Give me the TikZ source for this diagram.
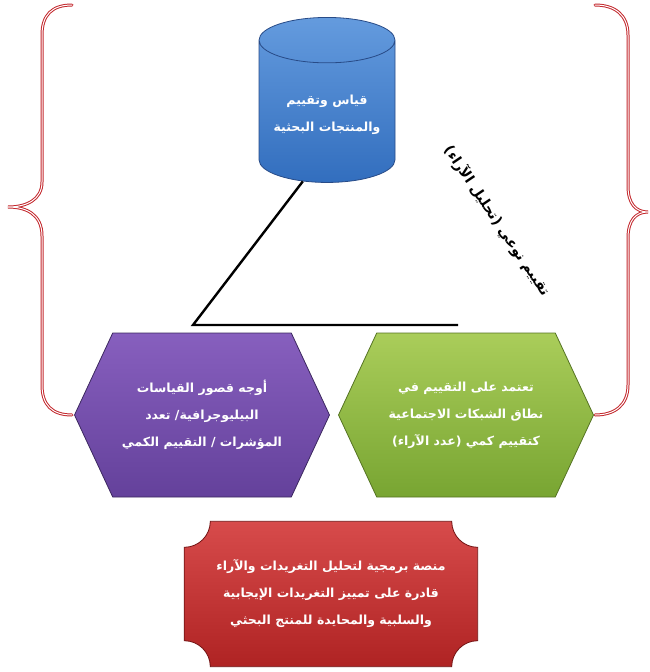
\documentclass[tikz,border=0pt]{standalone}
\usepackage{fontspec}
\newfontfamily\arabicfont[Script=Arabic]{DejaVu Sans}
\TeXXeTstate=1
\usetikzlibrary{shapes.geometric,shapes.symbols}
\newcommand{\ar}[1]{\beginR #1\endR}
\definecolor{bluetop}{RGB}{100,155,222}
\definecolor{bluebot}{RGB}{50,110,190}
\definecolor{blueline}{RGB}{40,75,135}
\definecolor{purtop}{RGB}{135,95,190}
\definecolor{purbot}{RGB}{100,65,155}
\definecolor{purline}{RGB}{60,40,95}
\definecolor{grntop}{RGB}{170,205,90}
\definecolor{grnbot}{RGB}{120,165,50}
\definecolor{grnline}{RGB}{85,115,35}
\definecolor{redtop}{RGB}{215,75,75}
\definecolor{redbot}{RGB}{175,35,35}
\definecolor{redline}{RGB}{115,20,20}
\definecolor{bracered}{RGB}{195,40,45}
\tikzset{
  boxtext/.style={text=white,font=\arabicfont\bfseries\fontsize{12.5}{27}\selectfont,align=center},
  hexbox/.style={boxtext,signal,signal to=west and east,signal pointer angle=130,
    minimum width=255pt,minimum height=164pt,inner sep=0pt,line width=0.8pt},
  bracket/.style={draw=bracered,double=white,double distance=1pt,line width=1pt,line cap=round},
  joint/.style={line width=2.4pt,black},
}
\begin{document}
\begin{tikzpicture}[x=1pt,y=1pt]
\useasboundingbox (0,0) rectangle (650,-672);
\draw[bracket] (72,-5) .. controls (52,-5) and (42,-15) .. (42,-35) -- (42,-182)
  .. controls (42,-200) and (26,-207) .. (8,-207)
  .. controls (26,-207) and (42,-214) .. (42,-236) -- (42,-385)
  .. controls (42,-405) and (52,-415) .. (72,-415);
\draw[bracket] (595,-5) .. controls (615,-5) and (628,-15) .. (628,-35) -- (628,-186)
  .. controls (628,-204) and (636,-212) .. (648,-212)
  .. controls (636,-212) and (628,-220) .. (628,-238) -- (628,-385)
  .. controls (628,-405) and (615,-415) .. (595,-415);
\node[cylinder,shape border rotate=90,aspect=0.4,boxtext,draw=blueline,line width=0.8pt,
  top color=bluetop,bottom color=bluebot,minimum width=136pt,minimum height=165pt]
  (measure) at (327,-115) {\ar{قياس وتقييم}\\\ar{والمنتجات البحثية}};
\coordinate (bend) at (193,-325);
\coordinate (tail) at (458,-325);
\draw[joint] (measure.250) -- (bend) -- (tail);
\node[rotate=-56,font=\arabicfont\bfseries\fontsize{14}{16}\selectfont] (quality) at (497,-221)
  {\ar{تقييم نوعي (تحليل الآراء)}};
\node[hexbox,draw=purline,top color=purtop,bottom color=purbot] (limits) at (202,-415)
  {\ar{أوجه قصور القياسات}\\\ar{البيليوجرافية/ تعدد}\\\ar{المؤشرات / التقييم الكمي}};
\node[hexbox,draw=grnline,top color=grntop,bottom color=grnbot] (social) at (466,-415)
  {\ar{تعتمد على التقييم في}\\\ar{نطاق الشبكات الاجتماعية}\\\ar{كتقييم كمي (عدد الآراء)}};
\node[minimum width=293pt,minimum height=145pt] (platform) at (331,-594) {};
\draw[draw=redline,line width=0.8pt,top color=redtop,bottom color=redbot]
  ([xshift=26pt]platform.north west) -- ([xshift=-26pt]platform.north east)
  arc[start angle=180,end angle=270,radius=26pt] -- ([yshift=26pt]platform.south east)
  arc[start angle=90,end angle=180,radius=26pt] -- ([xshift=26pt]platform.south west)
  arc[start angle=0,end angle=90,radius=26pt] -- ([yshift=-26pt]platform.north west)
  arc[start angle=270,end angle=360,radius=26pt] -- cycle;
\node[boxtext] at (platform.center)
  {\ar{منصة برمجية لتحليل التغريدات والآراء}\\\ar{قادرة على تمييز التغريدات الإيجابية}\\\ar{والسلبية والمحايدة للمنتج البحثي}};
\end{tikzpicture}
\end{document}
